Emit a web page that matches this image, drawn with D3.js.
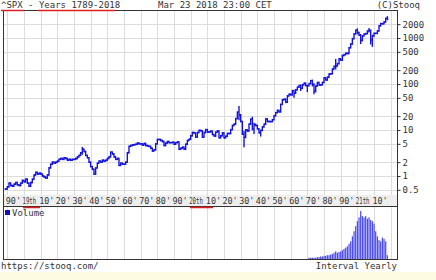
<!DOCTYPE html>
<html>
<head>
<meta charset="utf-8">
<script src="https://cdn.jsdelivr.net/npm/d3@7"></script>
<style>
  body { margin: 0; background: #fff; }
  svg { display: block; font-family: "DejaVu Sans Mono", monospace; }
</style>
</head>
<body>
<svg width="436" height="280"></svg>
<script>
// yearly closes 1789-2018
const firstYear = 1789
const closes = [
  0.52,
  0.58, 0.70, 0.62, 0.60, 0.66, 0.72, 0.64, 0.62, 0.70, 0.80,
  0.75, 0.85, 0.70, 0.60, 0.72, 0.85, 1.05, 1.20, 1.10, 1.15,
  1.10, 1.00, 0.95, 0.90, 1.05, 1.50, 1.80, 2.00, 1.90, 2.00,
  2.10, 2.30, 2.40, 2.30, 2.50, 2.40, 2.20, 2.30, 2.20, 2.30,
  2.30, 2.40, 2.60, 2.80, 3.20, 3.80, 3.40, 2.80, 2.50, 2.00,
  1.60, 1.40, 1.10, 1.50, 1.90, 2.10, 2.00, 2.20, 2.10, 2.20,
  2.40, 2.60, 3.30, 3.00, 2.60, 2.30, 2.40, 1.70, 1.90, 1.80,
  1.80, 2.00, 3.20, 4.40, 4.60, 4.70, 4.80, 4.90, 5.20, 5.00,
  5.00, 4.70, 5.10, 4.60, 4.50, 4.40, 4.00, 3.50, 3.70, 5.00,
  6.20, 6.20, 5.90, 5.60, 4.60, 5.20, 5.60, 5.30, 5.30, 5.40,
  4.90, 5.30, 5.50, 3.80, 4.00, 4.20, 3.80, 4.90, 5.90, 6.30,
  7.50, 8.80, 8.60, 7.00, 8.80, 9.80, 9.60, 7.00, 8.80, 10.2,
  9.00, 9.10, 9.40, 8.00, 7.40, 9.00, 9.50, 6.80, 7.50, 8.60,
  6.80, 7.30, 8.40, 8.40, 10.2, 12.5, 13.4, 17.7, 24.4, 21.4,
  15.3, 8.10, 6.90, 10.1, 9.50, 13.4, 17.2, 10.6, 13.2, 12.5,
  10.6, 8.70, 9.80, 11.7, 13.3, 17.4, 15.3, 15.3, 15.2, 16.8,
  20.4, 23.8, 26.6, 24.8, 36.0, 45.5, 46.7, 40.0, 55.2, 59.9,
  58.1, 71.6, 63.1, 75.0, 84.8, 92.4, 80.3, 96.5, 103.9, 92.1,
  92.2, 102.1, 118.1, 97.6, 68.6, 90.2, 107.5, 95.1, 96.1, 107.9,
  135.8, 122.6, 140.6, 164.9, 167.2, 211.3, 242.2, 247.1, 277.7, 353.4,
  330.2, 417.1, 435.7, 466.5, 459.3, 615.9, 740.7, 970.4, 1229, 1469,
  1320, 1148, 880, 1112, 1212, 1248, 1418, 1468, 903, 1115,
  1258, 1258, 1426, 1848, 2059, 2044, 2239, 2674, 2588
]
// yearly extremes beyond open/close: [year, low, high]
const extremes = [
  [1835, 3.0, 4.1], [1929, 17.0, 31.9], [1932, 4.4, 9.3], [1937, 10.2, 18.7],
  [1938, 8.5, 13.8], [1942, 7.5, 9.8], [1962, 52.3, 71.1], [1966, 73.2, 94.1],
  [1970, 69.3, 93.5], [1973, 92.2, 120.2], [1974, 62.3, 99.8], [1987, 216, 336],
  [2000, 1254, 1553], [2002, 768, 1176], [2007, 1364, 1576], [2008, 752, 1471],
  [2009, 667, 1130], [2018, 2532, 2873]
]
// yearly volume, relative units, 1971-2018
const volFirstYear = 1971
const volumes = [
  1, 1, 1, 1, 1, 1.5, 1.5, 2, 2, 2.5,
  2.5, 3, 3, 3.5, 4, 5, 6, 5, 5.5, 6,
  7, 8, 9, 10, 12, 14, 18, 22, 26, 30,
  33, 38, 34, 33, 34, 32, 33, 31, 30, 28,
  22, 18, 15, 14, 17, 16, 14, 3
]
const yTicks = [0.5, 1, 2, 5, 10, 20, 50, 100, 200, 500, 1000, 2000]
const decades = d3.range(1790, 2021, 10)
const decadeLabels = ["90'", "19th", "10'", "20'", "30'", "40'", "50'", "60'", "70'", "80'", "90'",
  "20th", "10'", "20'", "30'", "40'", "50'", "60'", "70'", "80'", "90'", "21th", "10'"]

const svg = d3.select("svg")
const plot = { left: 3, right: 397, top: 10, bottom: 195 }
const band = { top: 195, bottom: 206 }
const vol = { top: 206, bottom: 259 }
const blue = "#1414dc"

const x = d3.scaleLinear().domain([1790, 2020]).range([7.3, 390.7])
const y = d3.scaleLog().domain([0.386, 4063]).range([plot.bottom, plot.top])
const yv = d3.scaleLinear().domain([0, 42]).range([vol.bottom, vol.top])

// bottom yellow strip
svg.append("rect").attr("x", 0).attr("y", 272).attr("width", 436).attr("height", 8).attr("fill", "#fdfbe2")

// grid
const grid = svg.append("g").attr("stroke", "#dcdcdc").attr("stroke-width", 1).attr("shape-rendering", "crispEdges")
decades.forEach(d => {
  grid.append("line").attr("x1", Math.round(x(d)) + 0.5).attr("x2", Math.round(x(d)) + 0.5)
    .attr("y1", plot.top).attr("y2", plot.bottom)
  grid.append("line").attr("x1", Math.round(x(d)) + 0.5).attr("x2", Math.round(x(d)) + 0.5)
    .attr("y1", vol.top).attr("y2", vol.bottom)
})
yTicks.forEach(t => {
  grid.append("line").attr("x1", plot.left).attr("x2", plot.right)
    .attr("y1", Math.round(y(t)) + 0.5).attr("y2", Math.round(y(t)) + 0.5)
})

// price bars
const bars = svg.append("g").attr("stroke", blue).attr("stroke-width", 1.4).attr("fill", "none")
closes.forEach((c, i) => {
  const yr = firstYear + i
  const open = i > 0 ? closes[i - 1] : c
  let lo = Math.min(open, c), hi = Math.max(open, c)
  const ex = extremes.find(e => e[0] === yr)
  if (ex) { lo = Math.min(lo, ex[1]); hi = Math.max(hi, ex[2]) }
  const cx = x(yr)
  bars.append("line").attr("x1", cx).attr("x2", cx).attr("y1", y(lo) + 0.8).attr("y2", y(hi) - 0.8)
  bars.append("line").attr("x1", cx - 1).attr("x2", cx).attr("y1", y(open)).attr("y2", y(open))
  bars.append("line").attr("x1", cx).attr("x2", cx + 1).attr("y1", y(c)).attr("y2", y(c))
})

// volume bars
const vb = svg.append("g").attr("fill", "#4848ee")
volumes.forEach((v, i) => {
  const yr = volFirstYear + i
  vb.append("rect").attr("x", x(yr) - 0.6).attr("width", 1.2)
    .attr("y", yv(v)).attr("height", vol.bottom - yv(v))
})

// axis band
svg.append("rect").attr("x", plot.left).attr("y", band.top).attr("width", plot.right - plot.left)
  .attr("height", band.bottom - band.top).attr("fill", "#eeeeee")
const step = x(1800) - x(1790)
svg.append("g").selectAll("text").data(decades.slice(0, decadeLabels.length)).join("text")
  .attr("x", d => x(d) - 1.5)
  .attr("y", band.bottom - 2.5)
  .attr("font-size", 9).attr("fill", "#333")
  .each(function (d, i) {
    const s = decadeLabels[i]
    const t = d3.select(this).text(s)
    t.attr("textLength", s.length > 3 ? step - 3 : step - 1.5).attr("lengthAdjust", "spacingAndGlyphs")
  })

// frames
const fr = svg.append("g").attr("fill", "none").attr("stroke", "#333").attr("shape-rendering", "crispEdges")
fr.append("rect").attr("x", plot.left + 0.5).attr("y", plot.top + 0.5)
  .attr("width", plot.right - plot.left).attr("height", band.bottom - plot.top)
fr.append("rect").attr("x", plot.left + 0.5).attr("y", vol.top + 0.5)
  .attr("width", plot.right - plot.left).attr("height", vol.bottom - vol.top)

// y axis
const yAxis = d3.axisRight(y).tickValues(yTicks).tickSize(3).tickFormat(d3.format("~g"))
const ya = svg.append("g").attr("transform", `translate(${plot.right + 0.5},0)`).call(yAxis)
ya.select(".domain").remove()
ya.selectAll("line").attr("stroke", "#333")
ya.selectAll("text").attr("font-family", "DejaVu Sans Mono, monospace").attr("font-size", 9).attr("fill", "#333").attr("x", 5)

// texts
const txt = (tx, ty, s, anchor) => svg.append("text").attr("x", tx).attr("y", ty)
  .attr("font-size", 9).attr("fill", "#333").attr("text-anchor", anchor || "start").text(s)
txt(1, 8, "^SPX - Years 1789-2018")
txt(158, 8, "Mar 23 2018 23:00 CET")
txt(420, 8, "(C)Stooq", "end")
txt(1, 269, "https://stooq.com/")
txt(397, 269, "Interval Yearly", "end")
svg.append("rect").attr("x", 5).attr("y", 210).attr("width", 5).attr("height", 5).attr("fill", "#1010c0")
txt(12, 216, "Volume")

// red underline marks
const red = svg.append("g").attr("stroke", "#e02020").attr("stroke-width", 1.5)
;[[1, 24, 10.5], [38, 115, 10.5], [23, 40, 207.5], [190, 213, 207.5]].forEach(m => {
  red.append("line").attr("x1", m[0]).attr("x2", m[1]).attr("y1", m[2]).attr("y2", m[2])
})
</script>
</body>
</html>
